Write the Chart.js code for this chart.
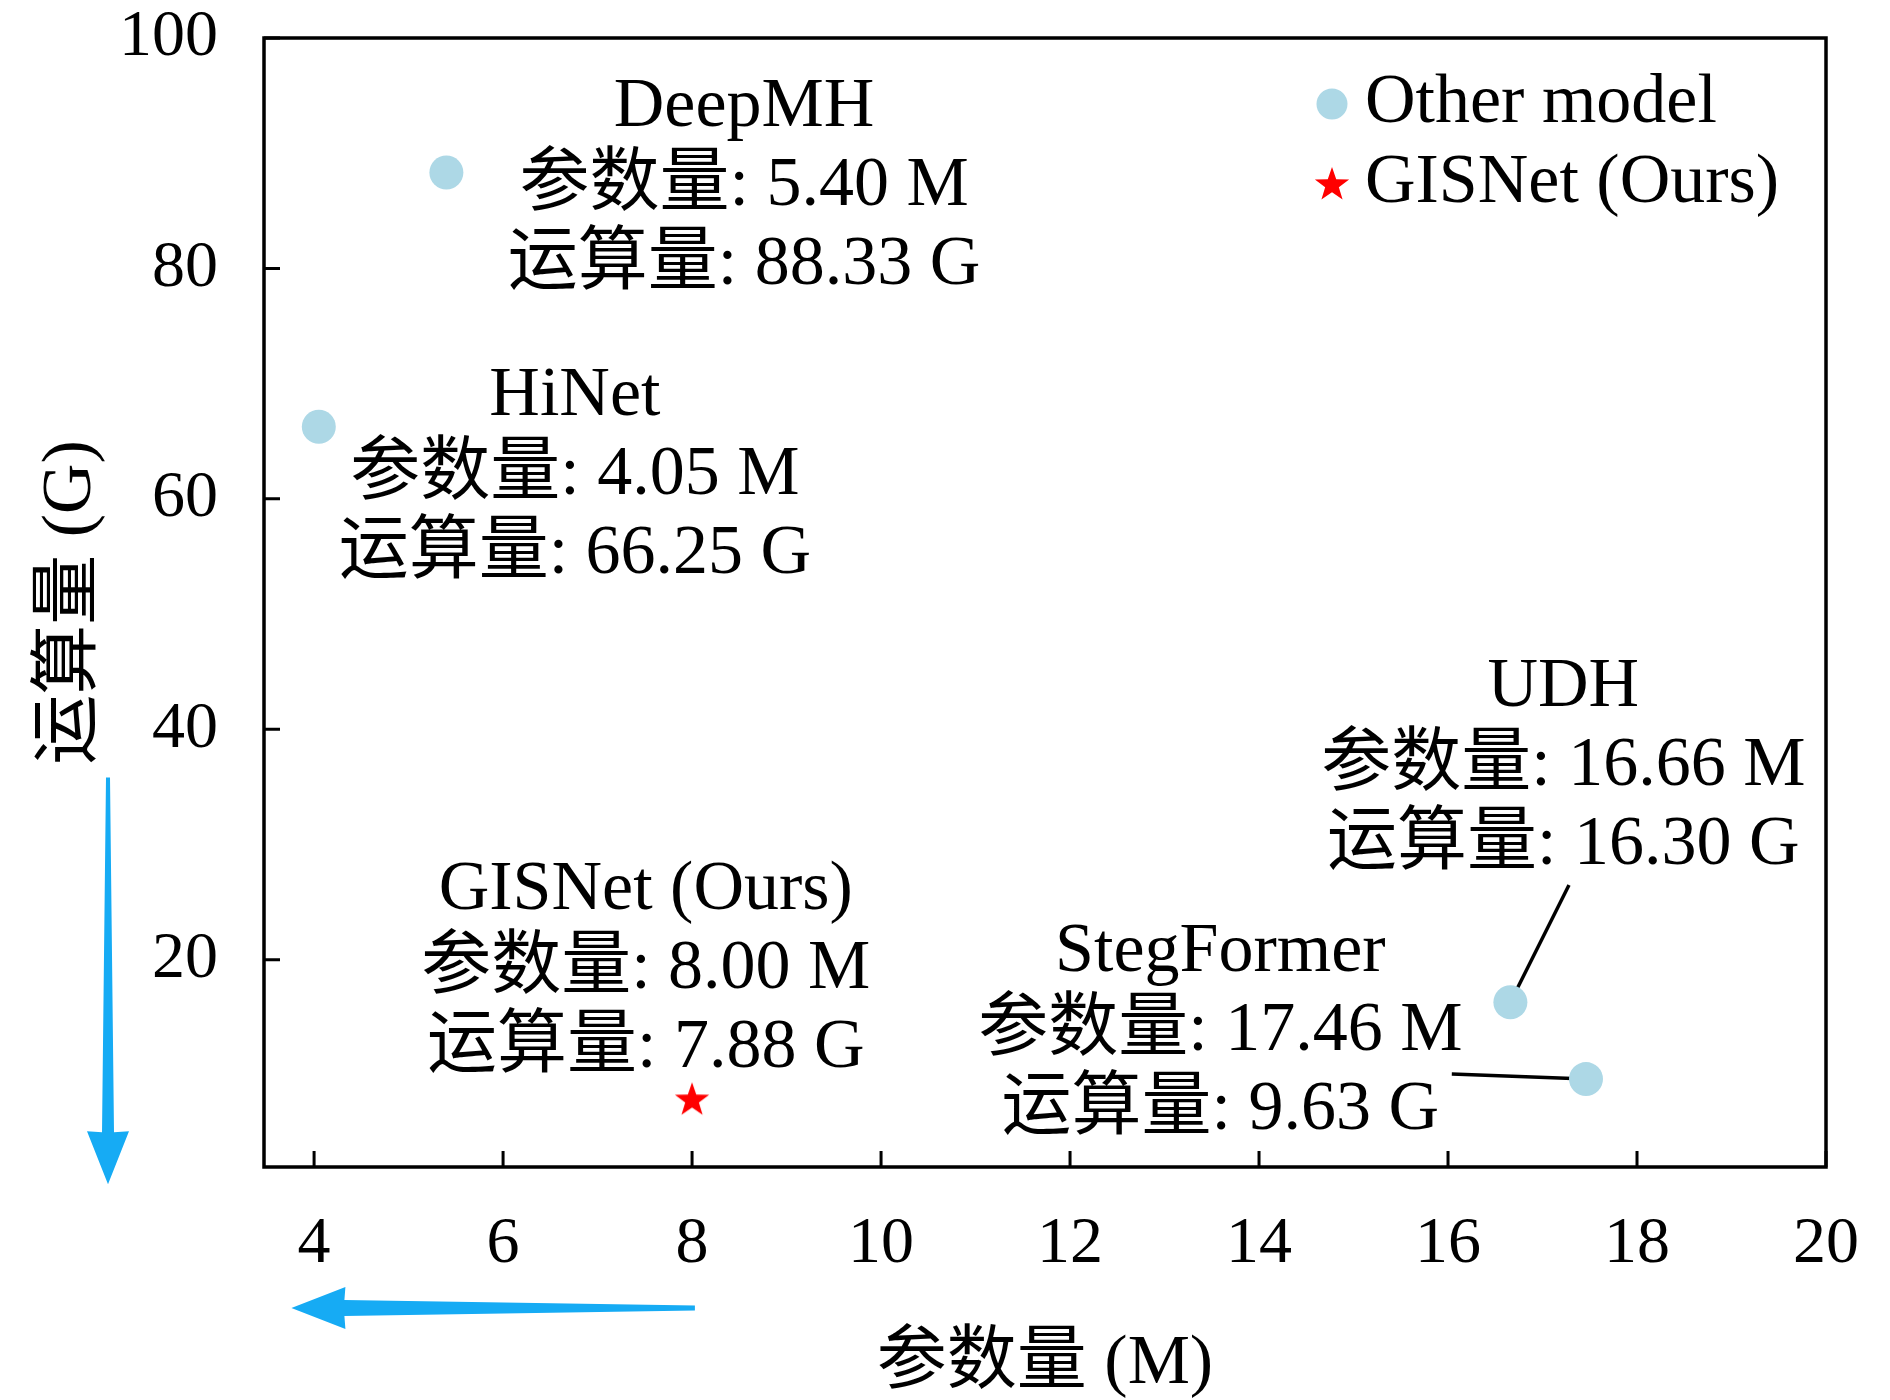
<!DOCTYPE html>
<html>
<head>
<meta charset="utf-8">
<script src="https://cdn.jsdelivr.net/npm/chart.js@4"></script>
<style>
  html, body { margin: 0; padding: 0; background: #fff; }
  canvas { display: block; }
</style>
</head>
<body>
<canvas id="flopsChart" width="1890" height="1400"></canvas>
<script>
// data
const otherNames = ['DeepMH', 'HiNet', 'UDH', 'StegFormer'];
const otherParams = [5.40, 4.05, 16.66, 17.46];   // M
const otherFlops = [88.33, 66.25, 16.30, 9.63];   // G
const oursNames = ['GISNet (Ours)'];
const oursParams = [8.00];
const oursFlops = [7.88];

const xTicks = [4, 6, 8, 10, 12, 14, 16, 18, 20];
const yTicks = [20, 40, 60, 80, 100];

// where the text boxes sit (centre x, first line y), in axis units
const labelSpots = {
  'DeepMH': [8.55, 94.0],
  'HiNet': [6.76, 68.9],
  'UDH': [17.22, 43.6],
  'StegFormer': [13.59, 20.6],
  'GISNet (Ours)': [7.51, 26.0]
};
// leader lines from a text box to its point
const leaders = {
  'UDH': [17.28, 26.48],
  'StegFormer': [16.04, 10.07]
};

const FONT = '"Liberation Serif", "Noto Sans CJK SC", serif';
const blue = '#16abf4';

// filled five point star for our model
function makeStar(R) {
  const c = document.createElement('canvas');
  const s = Math.ceil(R * 2 + 4);
  c.width = s; c.height = s;
  const g = c.getContext('2d');
  const r = R * 0.4;
  g.beginPath();
  for (let i = 0; i < 10; i++) {
    const a = -Math.PI / 2 + i * Math.PI / 5;
    const rr = i % 2 === 0 ? R : r;
    const px = s / 2 + rr * Math.cos(a), py = s / 2 + 1 + rr * Math.sin(a);
    i === 0 ? g.moveTo(px, py) : g.lineTo(px, py);
  }
  g.closePath();
  g.fillStyle = '#ff0000';
  g.fill();
  return c;
}
const star = makeStar(18);

const deco = {
  id: 'deco',
  beforeDatasetsDraw(chart) {
    const {ctx, scales: {x, y}} = chart;
    ctx.save();
    ctx.strokeStyle = '#000';
    ctx.lineWidth = 3.5;
    otherNames.forEach((n, i) => {
      if (!leaders[n]) return;
      ctx.beginPath();
      ctx.moveTo(x.getPixelForValue(leaders[n][0]), y.getPixelForValue(leaders[n][1]));
      ctx.lineTo(x.getPixelForValue(otherParams[i]), y.getPixelForValue(otherFlops[i]));
      ctx.stroke();
    });
    ctx.restore();
  },
  afterDatasetsDraw(chart) {
    const {ctx, chartArea: a, scales: {x, y}} = chart;
    ctx.save();
    // frame + inward ticks
    ctx.strokeStyle = '#000';
    ctx.lineWidth = 3.5;
    ctx.strokeRect(a.left, a.top, a.right - a.left, a.bottom - a.top);
    ctx.lineWidth = 3;
    ctx.beginPath();
    x.ticks.forEach(t => {
      const px = x.getPixelForValue(t.value);
      ctx.moveTo(px, a.bottom); ctx.lineTo(px, a.bottom - 16);
    });
    y.ticks.forEach(t => {
      const py = y.getPixelForValue(t.value);
      ctx.moveTo(a.left, py); ctx.lineTo(a.left + 16, py);
    });
    ctx.stroke();

    // text boxes
    ctx.fillStyle = '#000';
    ctx.font = '70px ' + FONT;
    ctx.textAlign = 'center';
    ctx.textBaseline = 'middle';
    const names = otherNames.concat(oursNames);
    const ps = otherParams.concat(oursParams);
    const fs = otherFlops.concat(oursFlops);
    names.forEach((n, i) => {
      const cx = x.getPixelForValue(labelSpots[n][0]);
      const cy = y.getPixelForValue(labelSpots[n][1]);
      const lines = [n, '参数量: ' + ps[i].toFixed(2) + ' M', '运算量: ' + fs[i].toFixed(2) + ' G'];
      lines.forEach((l, k) => ctx.fillText(l, cx, cy + k * 79));
    });

    // legend, top right inside the frame
    ctx.textAlign = 'left';
    chart.data.datasets.forEach((ds, k) => {
      const mx = a.right - 494, my = a.top + 66 + k * 80;
      if (ds.pointStyle === 'circle') {
        ctx.fillStyle = ds.backgroundColor;
        ctx.beginPath(); ctx.arc(mx, my, 15.5, 0, Math.PI * 2); ctx.fill();
      } else {
        ctx.drawImage(ds.pointStyle, mx - ds.pointStyle.width / 2, my - ds.pointStyle.height / 2);
      }
      ctx.fillStyle = '#000';
      ctx.fillText(ds.label, mx + 33, my);
    });
    ctx.restore();
  },
  afterDraw(chart) {
    const {ctx, chartArea: a, scales: {x, y}} = chart;
    ctx.save();
    ctx.fillStyle = blue;
    // vertical arrow, pointing down beside the y axis
    const vx = a.left - 156, vt = y.getPixelForValue(35.8), vb = y.getPixelForValue(0.5);
    ctx.beginPath();
    ctx.moveTo(vx - 2, vt); ctx.lineTo(vx + 2, vt);
    ctx.lineTo(vx + 6, vb - 52); ctx.lineTo(vx + 21, vb - 53);
    ctx.lineTo(vx, vb);
    ctx.lineTo(vx - 21, vb - 53); ctx.lineTo(vx - 6, vb - 52);
    ctx.closePath(); ctx.fill();
    // horizontal arrow, pointing left under the x axis
    const hy = a.bottom + 141, hr = x.getPixelForValue(8.03), hl = x.getPixelForValue(3.76);
    ctx.beginPath();
    ctx.moveTo(hr, hy - 2.5); ctx.lineTo(hr, hy + 2.5);
    ctx.lineTo(hl + 53, hy + 8); ctx.lineTo(hl + 54, hy + 21);
    ctx.lineTo(hl, hy);
    ctx.lineTo(hl + 54, hy - 21); ctx.lineTo(hl + 53, hy - 8);
    ctx.closePath(); ctx.fill();
    ctx.restore();
  }
};

// tick marks are drawn inward by the plugin; the library's own tick
// length (transparent) only pushes the labels away from the frame
const hiddenGrid = len => ({
  display: true, drawOnChartArea: false, drawTicks: true,
  tickLength: len, color: 'rgba(0,0,0,0)'
});

const ctx = document.getElementById('flopsChart').getContext('2d');
new Chart(ctx, {
  type: 'scatter',
  data: {
    datasets: [{
      label: 'Other model',
      data: otherParams.map((p, i) => ({x: p, y: otherFlops[i]})),
      pointStyle: 'circle',
      radius: 17,
      backgroundColor: '#add8e6',
      borderWidth: 0
    }, {
      label: 'GISNet (Ours)',
      data: oursParams.map((p, i) => ({x: p, y: oursFlops[i]})),
      pointStyle: star,
      backgroundColor: '#ff0000'
    }]
  },
  options: {
    responsive: false,
    devicePixelRatio: 1,
    animation: false,
    layout: { padding: { left: 0, top: 38, right: 64, bottom: 0 } },
    plugins: { legend: { display: false }, tooltip: { enabled: false } },
    scales: {
      x: {
        type: 'linear',
        min: 3.47,
        max: 20,
        afterBuildTicks: s => { s.ticks = xTicks.map(v => ({value: v})); },
        afterFit: s => { s.height = 233; },
        grid: hiddenGrid(45),
        border: { display: false },
        ticks: {
          color: '#000', padding: 0, maxRotation: 0, autoSkip: false,
          font: { family: FONT, size: 66, lineHeight: 1 }
        },
        title: {
          display: true, text: '参数量 (M)', color: '#000',
          padding: { top: 0, bottom: 0 },
          font: { family: FONT, size: 70, lineHeight: 1 }
        }
      },
      y: {
        type: 'linear',
        min: 2,
        max: 100,
        afterBuildTicks: s => { s.ticks = yTicks.map(v => ({value: v})); },
        afterFit: s => { s.width = 264; },
        grid: hiddenGrid(46),
        border: { display: false },
        ticks: {
          color: '#000', padding: 0, autoSkip: false,
          font: { family: FONT, size: 66, lineHeight: 1 }
        },
        title: {
          display: true, text: '运算量 (G)', color: '#000',
          padding: { top: 37, bottom: 0 },
          font: { family: FONT, size: 70, lineHeight: 1 }
        }
      }
    }
  },
  plugins: [deco]
});
</script>
</body>
</html>
